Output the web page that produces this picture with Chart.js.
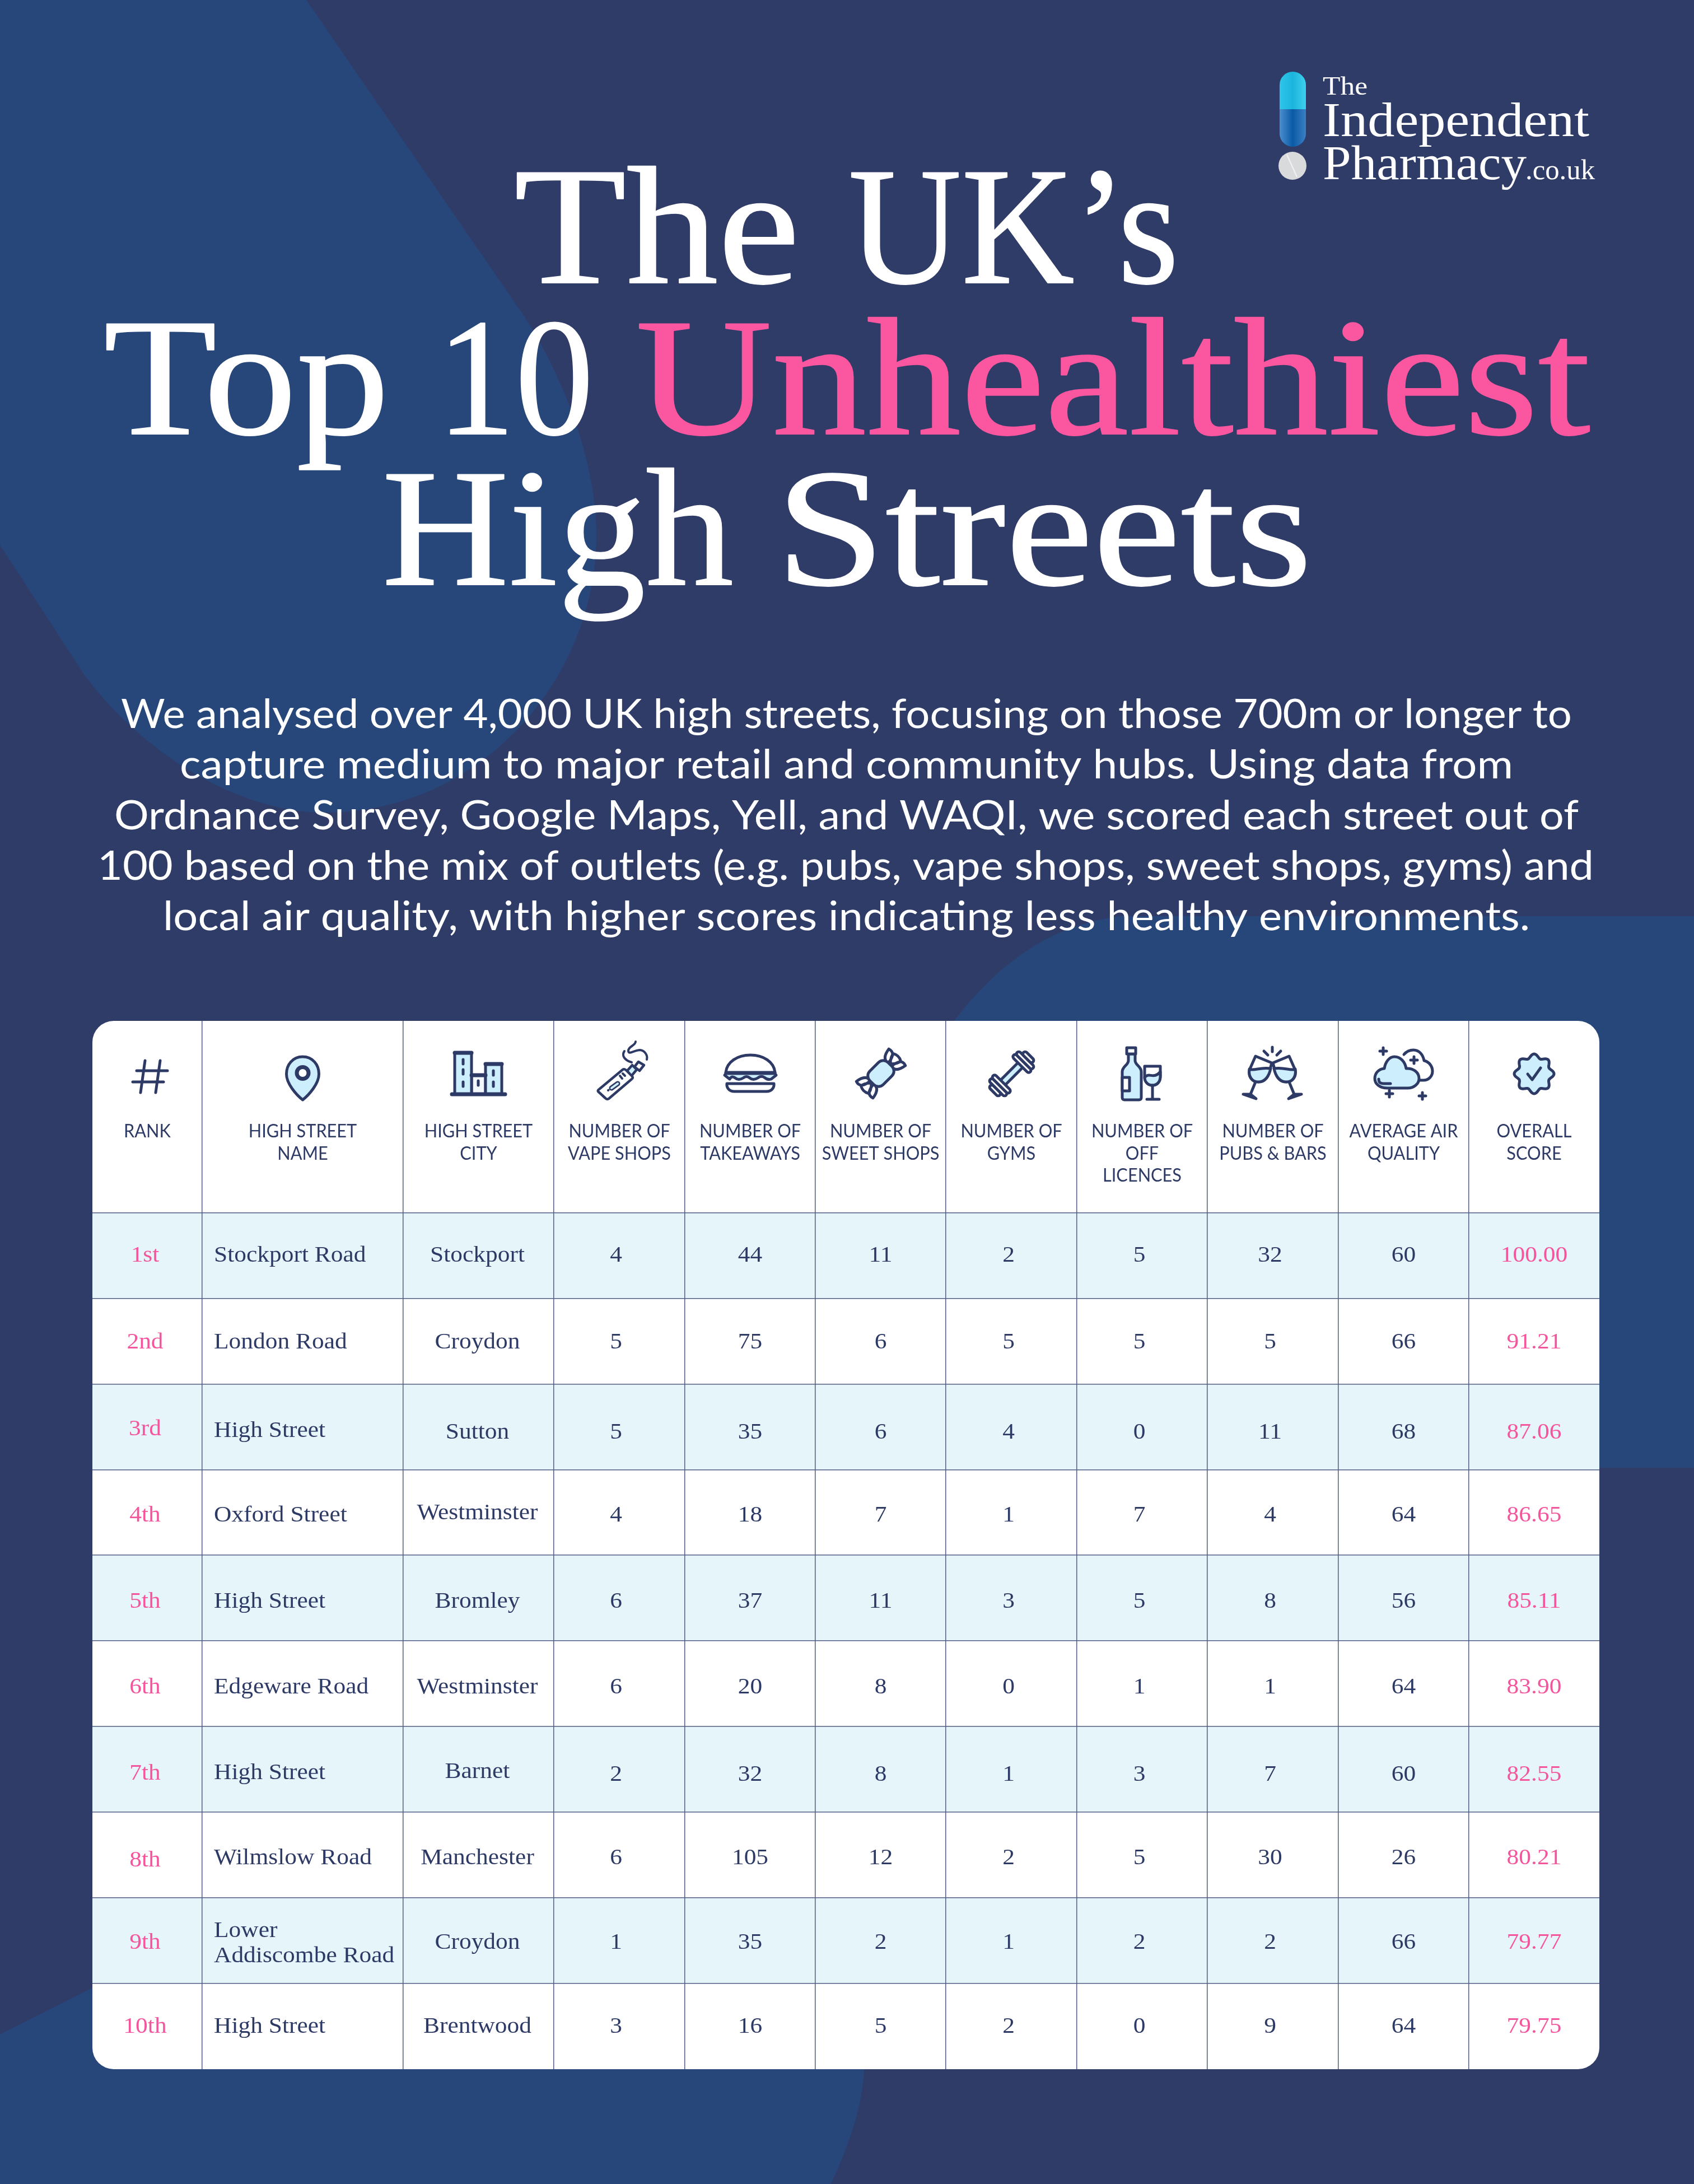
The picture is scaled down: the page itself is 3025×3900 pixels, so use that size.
<!DOCTYPE html>
<html>
<head>
<meta charset="utf-8">
<title>The UK's Top 10 Unhealthiest High Streets</title>
<script src="https://cdn.jsdelivr.net/npm/chart.js@4"></script>
<style>
  html, body { margin: 0; padding: 0; background: #303c68; }
  canvas { display: block; }
</style>
</head>
<body>
<canvas id="chart" width="3025" height="3900"></canvas>
<script>
// table data
const ranks = ["1st", "2nd", "3rd", "4th", "5th", "6th", "7th", "8th", "9th", "10th"];
const streetNames = ["Stockport Road", "London Road", "High Street", "Oxford Street", "High Street",
  "Edgeware Road", "High Street", "Wilmslow Road", "Lower\nAddiscombe Road", "High Street"];
const cities = ["Stockport", "Croydon", "Sutton", "Westminster", "Bromley",
  "Westminster", "Barnet", "Manchester", "Croydon", "Brentwood"];
const vapeShops = [4, 5, 5, 4, 6, 6, 2, 6, 1, 3];
const takeaways = [44, 75, 35, 18, 37, 20, 32, 105, 35, 16];
const sweetShops = [11, 6, 6, 7, 11, 8, 8, 12, 2, 5];
const gyms = [2, 5, 4, 1, 3, 0, 1, 2, 1, 2];
const offLicences = [5, 5, 0, 7, 5, 1, 3, 5, 2, 0];
const pubsBars = [32, 5, 11, 4, 8, 1, 7, 30, 2, 9];
const airQuality = [60, 66, 68, 64, 56, 64, 60, 26, 66, 64];
const overallScores = ["100.00", "91.21", "87.06", "86.65", "85.11", "83.90", "82.55", "80.21", "79.77", "79.75"];
const headers = [["RANK"], ["HIGH STREET", "NAME"], ["HIGH STREET", "CITY"], ["NUMBER OF", "VAPE SHOPS"],
  ["NUMBER OF", "TAKEAWAYS"], ["NUMBER OF", "SWEET SHOPS"], ["NUMBER OF", "GYMS"], ["NUMBER OF", "OFF", "LICENCES"],
  ["NUMBER OF", "PUBS & BARS"], ["AVERAGE AIR", "QUALITY"], ["OVERALL", "SCORE"]];
const introLines = [
  "We analysed over 4,000 UK high streets, focusing on those 700m or longer to",
  "capture medium to major retail and community hubs. Using data from",
  "Ordnance Survey, Google Maps, Yell, and WAQI, we scored each street out of",
  "100 based on the mix of outlets (e.g. pubs, vape shops, sweet shops, gyms) and",
  "local air quality, with higher scores indicating less healthy environments."
];
const columns = [ranks, streetNames, cities, vapeShops, takeaways, sweetShops, gyms, offLicences, pubsBars, airQuality, overallScores];

// layout, table starts at x=165 y=1823
const tableLeft = 165, tableRight = 2856, tableTop = 1823, tableBottom = 3695, rowHeight = 153;
const columnEdges = [165, 361, 720, 989, 1223, 1456, 1689, 1923, 2156, 2390, 2623, 2856].map(v => v - tableLeft);
const columnNudge = [-4, 0, -2, -6, 0, 0, -5, -5, -5, 0, 0];
const rowNudge = [11, 13, 21, 16, 17, 17, 20, 16, 14, 11];
// the original cells sit a few pixels off here and there ("row,col")
const cellNudge = { "2,0": -6, "2,1": -3, "3,2": -4, "6,0": -2, "6,1": -3, "6,2": -5, "7,0": 4 };
const headerRows = (2165.5 - tableTop) / rowHeight;

const navy = "#2e3a66", pink = "#f4559c", titlePink = "#fb56a0", bandColor = "#e6f5fa", iconBlue = "#cdeffd";
const baseColor = "#303c68", blobColor = "#27467a", lineColor = "#515c84";

// draw text squeezed or stretched to a given width
function fitText(ctx, text, x, base, width, font, color, weight) {
    ctx.save();
    ctx.font = font;
    const w = ctx.measureText(text).width;
    ctx.translate(x, base);
    ctx.scale(width / w, 1);
    ctx.textAlign = "left";
    ctx.textBaseline = "alphabetic";
    ctx.fillStyle = color;
    ctx.fillText(text, 0, 0);
    if (weight) {
        ctx.strokeStyle = color;
        ctx.lineWidth = weight;
        ctx.lineJoin = "round";
        ctx.strokeText(text, 0, 0);
    }
    ctx.restore();
}
function scaledText(ctx, text, x, base, sx, font, color, align) {
    ctx.save();
    ctx.font = font;
    ctx.translate(x, base);
    ctx.scale(sx, 1);
    ctx.textAlign = align;
    ctx.textBaseline = "alphabetic";
    ctx.fillStyle = color;
    ctx.fillText(text, 0, 0);
    ctx.restore();
}

function drawBackground(ctx) {
    ctx.fillStyle = baseColor;
    ctx.fillRect(0, 0, 3025, 3900);
    ctx.fillStyle = blobColor;
    // top left blob
    ctx.beginPath();
    ctx.moveTo(0, 0);
    ctx.lineTo(547, 0);
    ctx.lineTo(937, 566);
    ctx.bezierCurveTo(1010, 680, 1065, 830, 1065, 956);
    ctx.bezierCurveTo(1065, 1210, 860, 1451, 580, 1451);
    ctx.bezierCurveTo(420, 1451, 250, 1340, 149, 1203);
    ctx.lineTo(0, 973);
    ctx.closePath();
    ctx.fill();
    // right blob
    ctx.beginPath();
    ctx.moveTo(1600, 2000);
    ctx.bezierCurveTo(1680, 1830, 1800, 1660, 2000, 1636);
    ctx.lineTo(3025, 1636);
    ctx.lineTo(3025, 2621);
    ctx.lineTo(1600, 2621);
    ctx.closePath();
    ctx.fill();
    // bottom blob
    ctx.beginPath();
    ctx.moveTo(0, 3633);
    ctx.lineTo(174, 3545);
    ctx.lineTo(1000, 3400);
    ctx.lineTo(1543, 3600);
    ctx.lineTo(1543, 3695);
    ctx.bezierCurveTo(1540, 3760, 1520, 3820, 1484, 3900);
    ctx.lineTo(0, 3900);
    ctx.closePath();
    ctx.fill();
}

function drawHeading(ctx) {
    const big = "300px 'Liberation Serif', serif";
    [["The", 918, 505, 510], ["UK\u2019s", 1515, 505, 590], ["Top", 185, 775, 510], ["10", 780, 775, 280],
     ["High", 682, 1044, 628], ["Streets", 1385, 1044, 958]].forEach(w => fitText(ctx, w[0], w[1], w[2], w[3], big, "#ffffff", 2));
    fitText(ctx, "Unhealthiest", 1135, 775, 1705, big, titlePink, 2);
    const sans = "72px Lato, sans-serif";
    const spans = [[216, 2591], [321, 2381], [204, 2615], [174, 2672], [291, 2441]];
    introLines.forEach((line, i) => fitText(ctx, line, spans[i][0], 1300 + i * 90.3, spans[i][1], sans, "#ffffff"));
}

function drawLogo(ctx) {
    // capsule
    ctx.save();
    ctx.beginPath();
    ctx.roundRect(2285, 128, 47, 134, 23.5);
    ctx.clip();
    let g = ctx.createLinearGradient(2285, 0, 2332, 0);
    g.addColorStop(0, "#2ec6ea");
    g.addColorStop(0.5, "#1bb4dc");
    g.addColorStop(1, "#3fd0ee");
    ctx.fillStyle = g;
    ctx.fillRect(2285, 128, 47, 67);
    g = ctx.createLinearGradient(2285, 0, 2332, 0);
    g.addColorStop(0, "#4a8fd0");
    g.addColorStop(0.5, "#0b5aa6");
    g.addColorStop(1, "#3a80c4");
    ctx.fillStyle = g;
    ctx.fillRect(2285, 195, 47, 67);
    ctx.restore();
    // tablet
    ctx.fillStyle = "#d9dadb";
    ctx.beginPath();
    ctx.ellipse(2308, 296, 25, 25, 0, 0, Math.PI * 2);
    ctx.fill();
    ctx.strokeStyle = "#f2f2f2";
    ctx.lineWidth = 2;
    ctx.beginPath();
    ctx.moveTo(2298, 276);
    ctx.lineTo(2316, 316);
    ctx.stroke();
    const serif = "'Liberation Serif', serif";
    fitText(ctx, "The", 2362, 169, 80, "47px " + serif, "#ffffff");
    fitText(ctx, "Independent", 2362, 243, 476, "86px " + serif, "#ffffff");
    fitText(ctx, "Pharmacy", 2362, 320, 364, "86px " + serif, "#ffffff");
    fitText(ctx, ".co.uk", 2724, 320, 124, "50px " + serif, "#ffffff");
}

// header icons, each in its own local box
function path(ctx, d, fill) {
    const p = new Path2D(d);
    if (fill) { ctx.fillStyle = fill; ctx.fill(p); }
    ctx.stroke(p);
}
function rotatedBox(ctx, cx, cy, fn) {
    ctx.save();
    ctx.translate(cx, cy);
    ctx.rotate(-Math.PI / 4);
    fn();
    ctx.restore();
}
const icons = [
    [237, 1894, ctx => path(ctx, "M22 0L14 57M49 0L41 57M7 18H62M0 38H55")],
    [509, 1885, ctx => {
        path(ctx, "M31.5 2C14 2 2.5 16 2.5 33C2.5 50 20 70 31.5 79C43 70 60.5 50 60.5 33C60.5 16 49 2 31.5 2Z", iconBlue);
        ctx.lineWidth = 7;
        path(ctx, "M42 31A10.5 10.5 0 1 1 21 31A10.5 10.5 0 1 1 42 31Z", "#ffffff");
    }],
    [806, 1878, ctx => {
        path(ctx, "M36 42H61V76H36Z", "#f1f7fa");
        path(ctx, "M6 2H36V76H6Z", iconBlue);
        path(ctx, "M61 22H90V76H61Z", iconBlue);
        path(ctx, "M21 14V22M21 32V40M21 54V62M75 34V42M75 54V62M48 52V60");
        ctx.lineWidth = 7;
        path(ctx, "M1 76H96M6 2H36M61 22H90M36 42H61");
    }],
    [1067, 1859, ctx => {
        ctx.lineWidth = 4.5;
        path(ctx, "M53 53L62 43L70 51L60 63Z", iconBlue);
        path(ctx, "M66 46L73 37L83 43L75 53Z", "#ffffff");
        path(ctx, "M3 86L45 51Q48 49 51 52L62 63Q64 66 61 68L20 103Q17 105 14 102L1 90Q0 88 3 86Z", "#ffffff");
        ctx.lineWidth = 9;
        path(ctx, "M25 84L36 76");
        ctx.lineWidth = 4;
        ctx.strokeStyle = iconBlue;
        path(ctx, "M25 84L36 76");
        ctx.strokeStyle = navy;
        path(ctx, "M19 88L19.5 87.5M40 62L44 67M45 58L49 62");
        ctx.lineWidth = 4;
        path(ctx, "M68 1C68 8 54 10 55 18C56 25 66 16 76 16C84 17 90 25 88 33M48 18C43 25 47 34 61 38");
    }],
    [1293, 1882, ctx => {
        path(ctx, "M3 33C5 14 24 2 47 2C70 2 89 14 91 33");
        path(ctx, "M1 38L4 34H90L93 38L84 45Q78 47 72 42Q66 38 60 43Q52 48 46 43Q40 38 34 43Q26 48 20 43Q14 38 10 45Z", iconBlue);
        ctx.lineWidth = 7;
        path(ctx, "M4 34H90");
        ctx.lineWidth = 5;
        path(ctx, "M5 53H89C90 61 84 67 76 67H18C10 67 4 61 5 53Z", "#ffffff");
    }],
    [1529, 1875, ctx => rotatedBox(ctx, 44, 42, () => {
        const wing = "M22 -4Q20 -18 41 -21Q46 -6 22 -4ZM22 4Q20 18 41 21Q46 6 22 4ZM24 0Q34 -10 41 -9Q46 0 41 9Q34 10 24 0Z";
        path(ctx, wing, "#ffffff");
        ctx.scale(-1, 1);
        path(ctx, wing, "#ffffff");
        ctx.beginPath();
        ctx.roundRect(-23, -17, 46, 34, 12);
        ctx.fillStyle = iconBlue;
        ctx.fill();
        ctx.stroke();
    })],
    [1765, 1876, ctx => rotatedBox(ctx, 41.5, 41.5, () => {
        ctx.beginPath();
        ctx.rect(-24, -6, 48, 12);
        ctx.fillStyle = iconBlue;
        ctx.fill();
        ctx.stroke();
        [[-46, 24], [-38, 40], [-30, 42], [22, 42], [30, 40], [38, 24]].forEach(p => {
            ctx.beginPath();
            ctx.roundRect(p[0], -p[1] / 2, 8, p[1], 4);
            ctx.fillStyle = "#ffffff";
            ctx.fill();
            ctx.stroke();
        });
    })],
    [2002, 1870, ctx => {
        path(ctx, "M13 12V24C13 32 2 34 2 44V90C2 93 4 94 6 94H32C34 94 36 93 36 90V44C36 34 25 32 25 24V12Z", iconBlue);
        path(ctx, "M10 1H26V12H10Z", "#ffffff");
        path(ctx, "M2 54H15V78H2Z", "#ffffff");
        path(ctx, "M42 34H70V52C70 62 64 68 56 68C48 68 42 62 42 52Z", "#ffffff");
        path(ctx, "M42 54C50 44 58 58 70 44V52C70 62 64 68 56 68C48 68 42 62 42 54Z", iconBlue);
        path(ctx, "M56 68V92M46 93H68");
    }],
    [2220, 1869, ctx => {
        const glass = () => {
            path(ctx, "M22 17L51 29L47 44C44 56 38 63 27 63C16 63 9 54 11 42Z", "#ffffff");
            path(ctx, "M11 40C20 44 30 36 49 39C46 54 38 63 27 63C16 63 9 54 11 40Z", iconBlue);
            path(ctx, "M22 63L13 85");
            path(ctx, "M0 85L23 93L13 85Z", navy);
        };
        path(ctx, "M52 1V9M37 8L44 15M67 8L60 15");
        glass();
        ctx.translate(104, 0);
        ctx.scale(-1, 1);
        glass();
    }],
    [2454, 1871, ctx => {
        path(ctx, "M53 12C58 6 63 4 70 4C80 4 87 12 89 23C98 25 104 33 104 42C104 51 97 58 88 58H80");
        path(ctx, "M24 72C10 72 1 65 1 55C1 45 8 38 18 37C20 25 27 16 36 16C47 16 55 25 57 37C70 36 80 44 80 55C80 65 70 72 60 72Z", iconBlue);
        path(ctx, "M8 56C8 62 11 64 17 64H29");
        path(ctx, "M16 0V12M10 6H22M71 16V28M65 22H77M27 76V88M21 82H33M86 80V92M80 86H92");
    }],
    [2704, 1882, ctx => {
        ctx.beginPath();
        for (let a = 0; a <= 360; a += 3) {
            const r = a * Math.PI / 180;
            const rad = 32 + 3.5 * Math.cos(8 * r);
            const px = 35.5 + rad * Math.sin(r), py = 35.5 - rad * Math.cos(r);
            if (a === 0) ctx.moveTo(px, py); else ctx.lineTo(px, py);
        }
        ctx.closePath();
        ctx.fillStyle = iconBlue;
        ctx.fill();
        ctx.stroke();
        path(ctx, "M24 36L32 46L47 25");
    }]
];
function drawIcons(ctx) {
    icons.forEach(icon => {
        ctx.save();
        ctx.translate(icon[0], icon[1]);
        ctx.lineWidth = 5;
        ctx.lineCap = "round";
        ctx.lineJoin = "round";
        ctx.strokeStyle = navy;
        icon[2](ctx);
        ctx.restore();
    });
}

// page furniture goes under the grid, cell text on top of it
const tablePlugin = {
    id: "tablePlugin",
    beforeDraw(chart) {
        const ctx = chart.ctx, y = chart.scales.y, x = chart.scales.x;
        ctx.save();
        drawBackground(ctx);
        drawHeading(ctx);
        drawLogo(ctx);
        ctx.beginPath();
        ctx.roundRect(x.left, y.top, x.width, y.height, 38);
        ctx.fillStyle = "#ffffff";
        ctx.fill();
        ctx.fillStyle = bandColor;
        for (let i = 0; i < ranks.length; i += 2) {
            const top = y.getPixelForValue(i);
            ctx.fillRect(x.left, top, x.width, y.getPixelForValue(i + 1) - top);
        }
        ctx.restore();
    },
    afterDatasetsDraw(chart) {
        const ctx = chart.ctx, x = chart.scales.x;
        const cellFont = "41px 'Liberation Serif', serif", stretch = 1.06;
        chart.data.datasets.forEach((ds, c) => {
            chart.getDatasetMeta(c).data.forEach((pt, r) => {
                const color = (c === 0 || c === 10) ? pink : navy;
                const raw = ds.data[r].label;
                const base = pt.y + rowNudge[r] + (cellNudge[r + "," + c] || 0);
                if (c === 1) {
                    const left = x.getPixelForValue(columnEdges[1]) + 21;
                    const parts = raw.split("\n");
                    if (parts.length > 1) {
                        parts.forEach((s, k) => scaledText(ctx, s, left, pt.y + 16 + (k - 0.5) * 45, stretch, cellFont, color, "left"));
                    } else {
                        scaledText(ctx, raw, left, base, stretch, cellFont, color, "left");
                    }
                } else {
                    scaledText(ctx, raw, pt.x + columnNudge[c], base, stretch, cellFont, color, "center");
                }
            });
        });
        // header row
        const headerFont = "32px Lato, sans-serif";
        headers.forEach((lines, c) => {
            const cx = x.getPixelForValue((columnEdges[c] + columnEdges[c + 1]) / 2);
            lines.forEach((s, k) => scaledText(ctx, s, cx, 2031 + k * 39.5, 0.96, headerFont, navy, "center"));
        });
        drawIcons(ctx);
    }
};

const datasets = columns.map((col, c) => ({
    label: headers[c].join(" "),
    data: col.map((v, r) => ({ x: (columnEdges[c] + columnEdges[c + 1]) / 2, y: r + 0.5, label: String(v) })),
    pointRadius: 0,
    showLine: false
}));

new Chart(document.getElementById("chart"), {
    type: "scatter",
    data: { datasets: datasets },
    plugins: [tablePlugin],
    options: {
        responsive: false,
        devicePixelRatio: 1,
        animation: false,
        layout: { padding: { left: tableLeft, right: 3025 - tableRight, top: tableTop, bottom: 3900 - tableBottom } },
        plugins: { legend: { display: false }, tooltip: { enabled: false }, title: { display: false } },
        scales: {
            x: {
                type: "linear",
                min: 0,
                max: columnEdges[columnEdges.length - 1],
                afterBuildTicks: axis => { axis.ticks = columnEdges.map(v => ({ value: v })); },
                ticks: { display: false },
                border: { display: false },
                grid: {
                    drawTicks: false,
                    lineWidth: 1.5,
                    color: c => (c.index === 0 || c.index === columnEdges.length - 1) ? "rgba(0,0,0,0)" : lineColor
                }
            },
            y: {
                type: "linear",
                reverse: true,
                min: -headerRows,
                max: ranks.length,
                afterBuildTicks: axis => { axis.ticks = ranks.map((r, i) => ({ value: i })).concat([{ value: ranks.length }]); },
                ticks: { display: false },
                border: { display: false },
                grid: {
                    drawTicks: false,
                    lineWidth: 1.5,
                    color: c => c.index === ranks.length ? "rgba(0,0,0,0)" : lineColor
                }
            }
        }
    }
});
</script>
</body>
</html>
